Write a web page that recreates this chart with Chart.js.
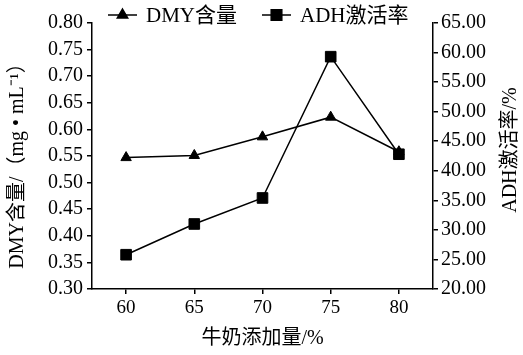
<!DOCTYPE html>
<html>
<head>
<meta charset="utf-8">
<script src="https://cdn.jsdelivr.net/npm/chart.js@4"></script>
<style>
  html, body { margin: 0; padding: 0; background: #fff; }
  #wrap { width: 523px; height: 355px; position: relative; }
</style>
</head>
<body>
<div id="wrap"><canvas id="c" width="523" height="355"></canvas></div>
<script>
// Milk addition level (%)
const categories = ['60', '65', '70', '75', '80'];
// DMY content (mg·mL⁻¹), left axis
const dmyValues = [0.547, 0.551, 0.586, 0.623, 0.558];
// ADH activation rate (%), right axis
const adhValues = [25.8, 31.0, 35.4, 59.3, 42.8];

const seriesNames = ['DMY含量', 'ADH激活率'];
const leftTitle = 'DMY含量/（mg • mL⁻¹）';
const rightTitle = 'ADH激活率/%';
const bottomTitle = '牛奶添加量/%';

const FONT = "'Liberation Serif', 'Noto Sans CJK SC', serif";

// Legend drawn above the plot: a short line with the marker, then the label
const topLegend = {
  id: 'topLegend',
  afterDraw(chart) {
    const ctx = chart.ctx;
    const spots = [{ x: 108, y: 15 }, { x: 262, y: 15 }];
    ctx.save();
    chart.data.datasets.forEach((ds, i) => {
      const p = spots[i];
      ctx.strokeStyle = '#000';
      ctx.lineWidth = 1.5;
      ctx.beginPath();
      ctx.moveTo(p.x, p.y);
      ctx.lineTo(p.x + 29, p.y);
      ctx.stroke();
      ctx.fillStyle = '#000';
      Chart.helpers.drawPoint(ctx, {
        pointStyle: ds.pointStyle, radius: ds.pointRadius, borderWidth: 1
      }, p.x + 14.5, p.y);
      ctx.font = "21px " + FONT;
      ctx.textBaseline = 'middle';
      ctx.textAlign = 'left';
      ctx.fillText(ds.label, p.x + 38, p.y + 1);
    });
    ctx.restore();
  }
};

// Both vertical axis titles read bottom-to-top
const sideTitles = {
  id: 'sideTitles',
  afterDraw(chart) {
    const ctx = chart.ctx;
    const a = chart.chartArea;
    const items = [
      { text: leftTitle, x: 18, y: (a.top + a.bottom) / 2 + 5 },
      { text: rightTitle, x: 511, y: (a.top + a.bottom) / 2 - 6 }
    ];
    ctx.save();
    ctx.fillStyle = '#000';
    ctx.font = "20px " + FONT;
    ctx.textAlign = 'center';
    ctx.textBaseline = 'middle';
    items.forEach(t => {
      ctx.save();
      ctx.translate(t.x, t.y);
      ctx.rotate(-Math.PI / 2);
      ctx.fillText(t.text, 0, 0);
      ctx.restore();
    });
    ctx.restore();
  }
};

new Chart(document.getElementById('c'), {
  type: 'line',
  data: {
    labels: categories,
    datasets: [
      {
        label: seriesNames[0],
        data: dmyValues,
        yAxisID: 'yL',
        borderColor: '#000',
        backgroundColor: '#000',
        borderWidth: 1.5,
        pointStyle: 'triangle',
        pointRadius: 6,
        pointBorderWidth: 1,
        tension: 0
      },
      {
        label: seriesNames[1],
        data: adhValues,
        yAxisID: 'yR',
        borderColor: '#000',
        backgroundColor: '#000',
        borderWidth: 1.5,
        pointStyle: 'rect',
        pointRadius: 7.5,
        pointBorderWidth: 1,
        tension: 0
      }
    ]
  },
  options: {
    responsive: false,
    animation: false,
    devicePixelRatio: 1,
    layout: { padding: { top: 23, left: 0, right: 0, bottom: 0 } },
    plugins: { legend: { display: false }, tooltip: { enabled: false } },
    scales: {
      x: {
        offset: true,
        afterFit(s) { s.height = 66; },
        border: { color: '#000', width: 1.5 },
        grid: { display: true, drawOnChartArea: false, offset: false, tickLength: 5, color: '#000', tickColor: '#000', lineWidth: 1.5 },
        ticks: { color: '#000', font: { family: FONT, size: 19 }, padding: 3 },
        title: { display: true, text: bottomTitle, color: '#000', font: { family: FONT, size: 20 }, padding: { top: 0, bottom: 4 } }
      },
      yL: {
        position: 'left',
        min: 0.30, max: 0.80,
        afterFit(s) { s.width = 92; },
        border: { color: '#000', width: 1.5 },
        grid: { drawOnChartArea: false, tickLength: 5, tickColor: '#000', lineWidth: 1.5 },
        ticks: { stepSize: 0.05, autoSkip: false, color: '#000', font: { family: FONT, size: 20 }, padding: 4,
          callback: v => Number(v).toFixed(2) }
      },
      yR: {
        position: 'right',
        min: 20, max: 65,
        afterFit(s) { s.width = 90; },
        border: { color: '#000', width: 1.5 },
        grid: { drawOnChartArea: false, tickLength: 5, tickColor: '#000', lineWidth: 1.5 },
        ticks: { stepSize: 5, autoSkip: false, color: '#000', font: { family: FONT, size: 20 }, padding: 3,
          callback: v => Number(v).toFixed(2) }
      }
    }
  },
  plugins: [topLegend, sideTitles]
});
</script>
</body>
</html>
